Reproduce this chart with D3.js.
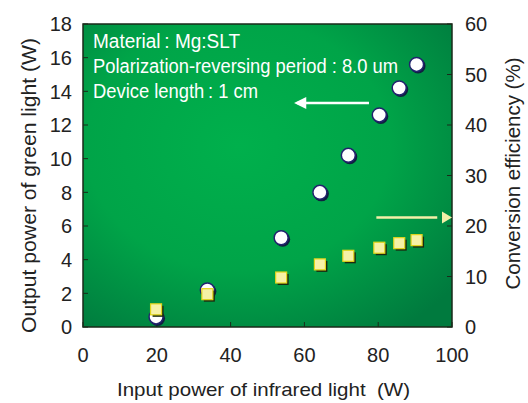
<!DOCTYPE html>
<html>
<head>
<meta charset="utf-8">
<script src="https://cdn.jsdelivr.net/npm/d3@7"></script>
<style>
  body { margin: 0; background: #fff; }
  text { font-family: "Liberation Sans", Arial, sans-serif; }
</style>
</head>
<body>
<script>
// input power of infrared light (W)
var inputPower = [19.8, 33.7, 53.7, 64.2, 71.9, 80.3, 85.7, 90.4];
// output power of green light (W) - circles, left axis
var greenPower = [0.6, 2.2, 5.3, 8.0, 10.2, 12.6, 14.2, 15.6];
// conversion efficiency (%) - squares, right axis
var efficiency = [3.5, 6.5, 9.8, 12.4, 14.1, 15.7, 16.6, 17.2];

var xTicks = [0, 20, 40, 60, 80, 100];
var yLeftTicks = [0, 2, 4, 6, 8, 10, 12, 14, 16, 18];
var yRightTicks = [0, 10, 20, 30, 40, 50, 60];
var notes = ["Material\u2009: Mg:SLT", "Polarization-reversing period : 8.0 um", "Device length\u2009: 1 cm"];
var noteWidths = [147, 305, 165];

var w = 528, h = 403;
var margin = {top: 24, right: 76, bottom: 76, left: 83};

var svg = d3.select("body").append("svg")
  .attr("width", w)
  .attr("height", h);

var pw = w - margin.left - margin.right;
var ph = h - margin.top - margin.bottom;

var x = d3.scaleLinear().domain([0, 100]).range([0, pw]);
var yL = d3.scaleLinear().domain([0, 18]).range([ph, 0]);
var yR = d3.scaleLinear().domain([0, 60]).range([ph, 0]);

var defs = svg.append("defs");
var grad = defs.append("radialGradient")
  .attr("id", "bg")
  .attr("cx", "42%").attr("cy", "40%").attr("r", "75%");
grad.append("stop").attr("offset", "0%").attr("stop-color", "#00b04c");
grad.append("stop").attr("offset", "55%").attr("stop-color", "#00a448");
grad.append("stop").attr("offset", "100%").attr("stop-color", "#007a3e");

var g = svg.append("g").attr("transform", "translate(" + margin.left + "," + margin.top + ")");

g.append("rect")
  .attr("width", pw).attr("height", ph)
  .attr("fill", "url(#bg)");

// ticks (inside)
var tickLen = 5;
g.selectAll(".tl").data(yLeftTicks).enter().append("line")
  .attr("x1", 0).attr("x2", tickLen)
  .attr("y1", d => yL(d)).attr("y2", d => yL(d))
  .attr("stroke", "#1a2a1a").attr("stroke-width", 1);
g.selectAll(".tr").data(yRightTicks).enter().append("line")
  .attr("x1", pw).attr("x2", pw - tickLen)
  .attr("y1", d => yR(d)).attr("y2", d => yR(d))
  .attr("stroke", "#1a2a1a").attr("stroke-width", 1);
g.selectAll(".tb").data(xTicks).enter().append("line")
  .attr("x1", d => x(d)).attr("x2", d => x(d))
  .attr("y1", ph).attr("y2", ph - tickLen)
  .attr("stroke", "#1a2a1a").attr("stroke-width", 1);

g.append("rect")
  .attr("width", pw).attr("height", ph)
  .attr("fill", "none").attr("stroke", "#1a2a1a").attr("stroke-width", 1.5);

// tick labels
g.selectAll(".ll").data(yLeftTicks).enter().append("text")
  .attr("x", -11).attr("y", d => yL(d)).attr("dy", "0.36em")
  .attr("text-anchor", "end").attr("font-size", 20).attr("fill", "#222")
  .text(d => d);
g.selectAll(".rl").data(yRightTicks).enter().append("text")
  .attr("x", pw + 13).attr("y", d => yR(d)).attr("dy", "0.36em")
  .attr("text-anchor", "start").attr("font-size", 20).attr("fill", "#222")
  .text(d => d);
g.selectAll(".bl").data(xTicks).enter().append("text")
  .attr("x", d => x(d)).attr("y", ph + 35)
  .attr("text-anchor", "middle").attr("font-size", 20).attr("fill", "#222")
  .text(d => d);

// axis titles
g.append("text")
  .attr("x", 34).attr("y", ph + 69)
  .attr("font-size", 19).attr("fill", "#222")
  .attr("xml:space", "preserve")
  .attr("textLength", 293).attr("lengthAdjust", "spacingAndGlyphs")
  .text("Input power of infrared light  (W)");
g.append("text")
  .attr("transform", "translate(" + (-47) + "," + (ph / 2 + 10) + ") rotate(-90)")
  .attr("text-anchor", "middle").attr("font-size", 20).attr("fill", "#222")
  .attr("textLength", 295).attr("lengthAdjust", "spacingAndGlyphs")
  .text("Output power of green light (W)");
g.append("text")
  .attr("transform", "translate(" + (pw + 68) + "," + (ph / 2 - 2) + ") rotate(-90)")
  .attr("text-anchor", "middle").attr("font-size", 20).attr("fill", "#222")
  .attr("textLength", 232).attr("lengthAdjust", "spacingAndGlyphs")
  .text("Conversion efficiency (%)");

// notes
g.selectAll(".note").data(notes).enter().append("text")
  .attr("x", 10).attr("y", (d, i) => 24 + i * 25)
  .attr("font-size", 20).attr("fill", "#fff")
  .attr("font-family", "'Liberation Sans Narrow', 'DejaVu Sans Condensed', sans-serif")
  .attr("textLength", (d, i) => noteWidths[i]).attr("lengthAdjust", "spacingAndGlyphs")
  .text(d => d);

// arrows
var ya = yL(13.3);
g.append("line")
  .attr("x1", x(77.5)).attr("x2", x(58))
  .attr("y1", ya).attr("y2", ya)
  .attr("stroke", "#fff").attr("stroke-width", 2.5);
g.append("path")
  .attr("d", d3.line()([[x(57.2), ya], [x(60.5), ya - 6], [x(60.5), ya + 6]]))
  .attr("fill", "#fff");

var yb = yR(21.7);
g.append("line")
  .attr("x1", x(79.5)).attr("x2", x(96))
  .attr("y1", yb).attr("y2", yb)
  .attr("stroke", "#f3efa8").attr("stroke-width", 2.5);
g.append("path")
  .attr("d", d3.line()([[pw, yb], [pw - 10, yb - 6], [pw - 10, yb + 6]]))
  .attr("fill", "#f3efa8");

// circles: green output power
var circ = g.append("g");
circ.selectAll(".sh").data(inputPower).enter().append("circle")
  .attr("cx", d => x(d) + 1.5).attr("cy", (d, i) => yL(greenPower[i]) + 1.5)
  .attr("r", 7.5).attr("fill", "#102040");
circ.selectAll(".c").data(inputPower).enter().append("circle")
  .attr("cx", d => x(d)).attr("cy", (d, i) => yL(greenPower[i]))
  .attr("r", 7).attr("fill", "#fff")
  .attr("stroke", "#22236e").attr("stroke-width", 1.5);

// squares: conversion efficiency
var sq = g.append("g");
var s = 11;
sq.selectAll(".sh").data(inputPower).enter().append("rect")
  .attr("x", d => x(d) - s / 2 + 2).attr("y", (d, i) => yR(efficiency[i]) - s / 2 + 2)
  .attr("width", s).attr("height", s).attr("fill", "#1a2a10");
sq.selectAll(".q").data(inputPower).enter().append("rect")
  .attr("x", d => x(d) - s / 2).attr("y", (d, i) => yR(efficiency[i]) - s / 2)
  .attr("width", s).attr("height", s).attr("fill", "#f6f1a6")
  .attr("stroke", "#e2d51a").attr("stroke-width", 1.2);
</script>
</body>
</html>
